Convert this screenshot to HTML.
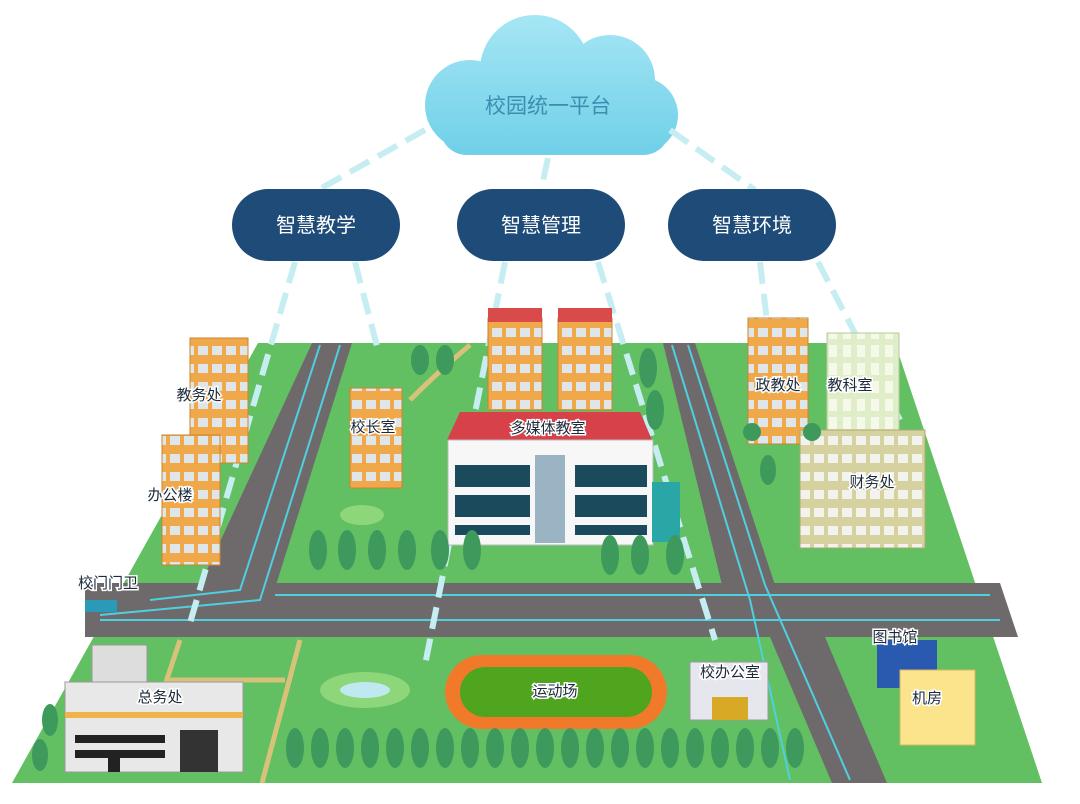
<!DOCTYPE html>
<html><head><meta charset="utf-8"><style>
body{margin:0;background:#fff;}
svg{display:block;font-family:"Liberation Sans","Noto Sans CJK SC",sans-serif;}
</style></head><body>
<svg width="1080" height="804" viewBox="0 0 1080 804" xmlns="http://www.w3.org/2000/svg">
<defs>
<pattern id="win" width="14" height="18" patternUnits="userSpaceOnUse"><rect width="14" height="18" fill="#f0a94a"/><rect x="2" y="4" width="10" height="9" fill="#dfe6ea"/></pattern>
<pattern id="win2" width="14" height="18" patternUnits="userSpaceOnUse"><rect width="14" height="18" fill="#d6d2a0"/><rect x="2" y="4" width="10" height="9" fill="#f3f3ee"/></pattern>
<pattern id="win3" width="14" height="18" patternUnits="userSpaceOnUse"><rect width="14" height="18" fill="#dfeec9"/><rect x="3" y="3" width="8" height="12" fill="#f4f9ea"/></pattern>
<linearGradient id="cg" gradientUnits="userSpaceOnUse" x1="0" y1="15" x2="0" y2="155"><stop offset="0" stop-color="#a6e6f4"/><stop offset="1" stop-color="#6fd0e8"/></linearGradient>
</defs>
<polygon points="258,343 895,343 1042,783 12,783" fill="#62bf62"/>
<polygon points="85,583 1000,583 1018,637 85,637" fill="#6e6a6c"/>
<polygon points="312,343 352,343 276,585 200,585" fill="#6e6a6c"/>
<polygon points="663,343 695,343 775,585 722,585" fill="#6e6a6c"/>
<polygon points="770,637 825,637 887,783 832,783" fill="#6e6a6c"/>
<g stroke="#4fd0e0" stroke-width="2" fill="none">
<polyline points="320,345 240,590 150,600"/>
<polyline points="340,345 260,600 100,615"/>
<line x1="275" y1="595" x2="990" y2="595"/>
<line x1="100" y1="620" x2="1000" y2="620"/>
<polyline points="672,345 750,600 790,780"/>
<polyline points="688,345 765,585 850,780"/>
</g>
<g stroke="#d8c27a" stroke-width="5" fill="none">
<line x1="180" y1="640" x2="160" y2="700"/><line x1="300" y1="640" x2="262" y2="783"/>
<line x1="168" y1="680" x2="285" y2="680"/>
<path d="M410,400 Q440,370 470,345"/>
</g>
<g fill="url(#cg)">
<circle cx="470" cy="105" r="45"/><circle cx="535" cy="70" r="55"/><circle cx="610" cy="80" r="45"/><circle cx="640" cy="115" r="38"/>
<rect x="440" y="100" width="230" height="55" rx="27"/>
</g>
<text x="548" y="113" font-size="21" fill="#3d8db0" text-anchor="middle">校园统一平台</text>
<g stroke="#c6eef2" stroke-width="6" stroke-dasharray="22,10" fill="none">
<line x1="425" y1="130" x2="318" y2="190"/><line x1="548" y1="158" x2="541" y2="190"/><line x1="670" y1="130" x2="755" y2="190"/>
<line x1="295" y1="262" x2="188" y2="630"/><line x1="355" y1="262" x2="378" y2="350"/>
<line x1="505" y1="262" x2="425" y2="665"/><line x1="598" y1="262" x2="715" y2="640"/>
<line x1="760" y1="262" x2="768" y2="330"/><line x1="818" y1="262" x2="900" y2="420"/>
</g>
<g fill="#1e4b78">
<rect x="232" y="189" width="168" height="72" rx="36"/>
<rect x="457" y="189" width="168" height="72" rx="36"/>
<rect x="668" y="189" width="168" height="72" rx="36"/>
</g>
<g font-size="20" fill="#fff" text-anchor="middle">
<text x="316" y="232">智慧教学</text><text x="541" y="232">智慧管理</text><text x="752" y="232">智慧环境</text>
</g>
<g fill="url(#win)" stroke="#c98531">
<rect x="190" y="338" width="58" height="125"/><rect x="162" y="435" width="58" height="130"/>
<rect x="350" y="388" width="52" height="100"/>
<rect x="748" y="318" width="60" height="126"/>
<rect x="488" y="318" width="54" height="92"/><rect x="558" y="318" width="54" height="92"/>
</g>
<g fill="#d94a4a"><rect x="488" y="308" width="54" height="14"/><rect x="558" y="308" width="54" height="14"/></g>
<polygon points="460,412 640,412 652,440 447,440" fill="#d6414a"/>
<rect x="448" y="440" width="205" height="105" fill="#f7f7f7" stroke="#bbb"/>
<rect x="652" y="482" width="28" height="60" fill="#2aa6a6"/>
<rect x="535" y="455" width="30" height="88" fill="#9ab4c4"/>
<g fill="#1a4a5c"><rect x="455" y="465" width="75" height="22"/><rect x="455" y="495" width="75" height="22"/><rect x="575" y="465" width="72" height="22"/><rect x="575" y="495" width="72" height="22"/><rect x="455" y="525" width="75" height="10"/><rect x="575" y="525" width="72" height="10"/></g>
<rect x="827" y="333" width="72" height="105" fill="url(#win3)" stroke="#b8c99a"/>
<rect x="800" y="430" width="125" height="118" fill="url(#win2)" stroke="#aea770"/>
<rect x="92" y="645" width="55" height="40" fill="#ddd" stroke="#999"/>
<rect x="65" y="682" width="178" height="90" fill="#e8e8e8" stroke="#999"/>
<rect x="65" y="712" width="178" height="6" fill="#f1b24a"/>
<rect x="180" y="730" width="38" height="42" fill="#333"/>
<g fill="#222"><rect x="75" y="735" width="90" height="8"/><rect x="75" y="750" width="90" height="8"/><rect x="108" y="752" width="12" height="20"/></g>
<rect x="445" y="655" width="222" height="74" rx="37" fill="#f07a2a"/>
<rect x="460" y="667" width="192" height="50" rx="25" fill="#4fa51e"/>
<rect x="690" y="662" width="78" height="58" fill="#e6e6ee" stroke="#999"/>
<rect x="712" y="697" width="36" height="23" fill="#d7a924"/>
<rect x="877" y="640" width="60" height="48" fill="#2a5ab0"/>
<rect x="900" y="670" width="75" height="75" fill="#fbe48c" stroke="#d6b860"/>
<ellipse cx="365" cy="690" rx="45" ry="18" fill="#8ed67a"/><ellipse cx="365" cy="690" rx="25" ry="8" fill="#bfe9f0"/>
<ellipse cx="362" cy="515" rx="22" ry="10" fill="#8ed67a"/>
<g fill="#3e9a5c">
<ellipse cx="295" cy="748" rx="9" ry="20"/><ellipse cx="320" cy="748" rx="9" ry="20"/><ellipse cx="345" cy="748" rx="9" ry="20"/><ellipse cx="370" cy="748" rx="9" ry="20"/><ellipse cx="395" cy="748" rx="9" ry="20"/><ellipse cx="420" cy="748" rx="9" ry="20"/><ellipse cx="445" cy="748" rx="9" ry="20"/><ellipse cx="470" cy="748" rx="9" ry="20"/><ellipse cx="495" cy="748" rx="9" ry="20"/><ellipse cx="520" cy="748" rx="9" ry="20"/><ellipse cx="545" cy="748" rx="9" ry="20"/><ellipse cx="570" cy="748" rx="9" ry="20"/><ellipse cx="595" cy="748" rx="9" ry="20"/><ellipse cx="620" cy="748" rx="9" ry="20"/><ellipse cx="645" cy="748" rx="9" ry="20"/><ellipse cx="670" cy="748" rx="9" ry="20"/><ellipse cx="695" cy="748" rx="9" ry="20"/><ellipse cx="720" cy="748" rx="9" ry="20"/><ellipse cx="745" cy="748" rx="9" ry="20"/><ellipse cx="770" cy="748" rx="9" ry="20"/><ellipse cx="795" cy="748" rx="9" ry="20"/>
<ellipse cx="318" cy="550" rx="9" ry="20"/><ellipse cx="347" cy="550" rx="9" ry="20"/><ellipse cx="377" cy="550" rx="9" ry="20"/><ellipse cx="407" cy="550" rx="9" ry="20"/><ellipse cx="440" cy="550" rx="9" ry="20"/><ellipse cx="472" cy="550" rx="9" ry="20"/>
<ellipse cx="610" cy="555" rx="9" ry="20"/><ellipse cx="640" cy="555" rx="9" ry="20"/><ellipse cx="675" cy="555" rx="9" ry="20"/>
<ellipse cx="648" cy="368" rx="9" ry="20"/><ellipse cx="655" cy="410" rx="9" ry="20"/><ellipse cx="420" cy="360" rx="9" ry="15"/><ellipse cx="445" cy="360" rx="9" ry="15"/>
<ellipse cx="50" cy="720" rx="8" ry="16"/><ellipse cx="40" cy="755" rx="8" ry="16"/>
<ellipse cx="768" cy="470" rx="8" ry="15"/><ellipse cx="752" cy="432" rx="9" ry="9"/><ellipse cx="812" cy="432" rx="9" ry="9"/>
</g>
<rect x="85" y="600" width="32" height="12" fill="#2a9ab8"/>
<g font-size="15" fill="#1c2a3a" text-anchor="middle" stroke="#fff" stroke-width="3" paint-order="stroke">
<text x="199" y="400">教务处</text><text x="170" y="500">办公楼</text><text x="373" y="432">校长室</text>
<text x="548" y="433">多媒体教室</text><text x="778" y="390">政教处</text><text x="850" y="390">教科室</text>
<text x="872" y="487">财务处</text><text x="108" y="588">校门门卫</text><text x="160" y="702">总务处</text>
<text x="555" y="696">运动场</text><text x="730" y="677">校办公室</text><text x="895" y="642">图书馆</text><text x="927" y="703">机房</text>
</g>
</svg>
</body></html>
